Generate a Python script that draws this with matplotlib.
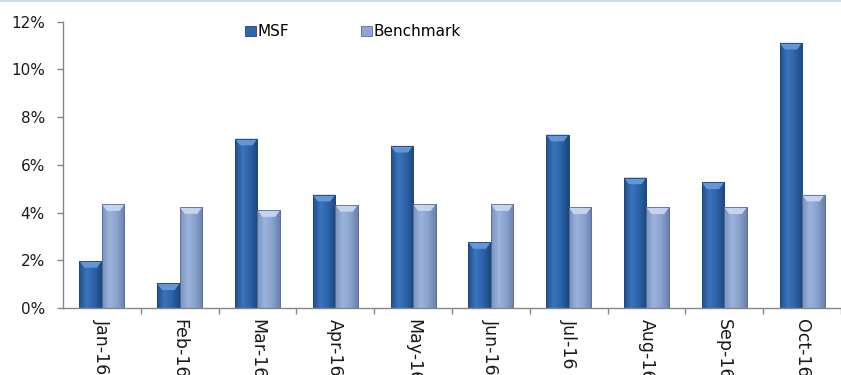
import matplotlib
matplotlib.use("Agg")
import matplotlib.pyplot as plt
import numpy as np
from matplotlib.patches import Polygon, Patch
from matplotlib.colors import LinearSegmentedColormap
from matplotlib.lines import Line2D

months = ["Jan-16", "Feb-16", "Mar-16", "Apr-16", "May-16",
          "Jun-16", "Jul-16", "Aug-16", "Sep-16", "Oct-16"]
msf = [1.97, 1.03, 7.10, 4.75, 6.80, 2.76, 7.27, 5.47, 5.27, 11.12]
benchmark = [4.35, 4.23, 4.10, 4.32, 4.35, 4.35, 4.22, 4.22, 4.22, 4.75]
yticks = [0, 2, 4, 6, 8, 10, 12]
ytick_labels = ["0%", "2%", "4%", "6%", "8%", "10%", "12%"]

fig = plt.figure(figsize=(8.41, 3.75), dpi=100)
ax = fig.add_axes([0.0749, 0.1787, 1 - 0.0749, 0.9419 - 0.1787])

x = np.arange(len(months))
w = 0.29

styles = {
    "MSF": dict(edge="#1F4677", grad=["#21508C", "#3A74BD", "#2C62A6", "#1C4780"], top="#6A9CDB"),
    "Benchmark": dict(edge="#5B6F94", grad=["#7891BF", "#9CB3DB", "#8AA2CE", "#6B82AF"], top="#CCDAF2"),
}

def draw(series, offset, name):
    st = styles[name]
    bars = ax.bar(x + offset, series, width=w, color=st["grad"][1], edgecolor=st["edge"],
                  linewidth=0.6, zorder=2, label=name)
    cmap = LinearSegmentedColormap.from_list(name, st["grad"])
    grad = np.linspace(0, 1, 64).reshape(1, -1)
    for b in bars:
        x0, y0 = b.get_x(), b.get_y()
        bw, bh = b.get_width(), b.get_height()
        im = ax.imshow(grad, extent=[x0, x0 + bw, y0, y0 + bh], aspect="auto",
                       cmap=cmap, zorder=2.1, interpolation="bicubic")
        im.set_clip_path(b)
        bev = 0.28
        poly = Polygon([[x0, y0 + bh], [x0 + bw, y0 + bh],
                        [x0 + bw * 0.78, y0 + bh - bev], [x0 + bw * 0.22, y0 + bh - bev]],
                       closed=True, facecolor=st["top"], edgecolor="none", zorder=2.2, alpha=0.9)
        ax.add_patch(poly)
        ax.add_patch(plt.Rectangle((x0, y0), bw, bh, fill=False, edgecolor=st["edge"],
                                   linewidth=0.6, zorder=2.3))
    return bars

draw(msf, -w / 2, "MSF")
draw(benchmark, w / 2, "Benchmark")

ax.set_ylim(0, 12)
ax.set_xlim(-0.5, 9.41)
ax.set_yticks(yticks)
ax.set_yticklabels(ytick_labels, fontsize=11, color="#1a1a1a")
ax.set_xticks(x)
ax.set_xticklabels(months, rotation=-90, fontsize=12.5, color="#1a1a1a", va="top")
ax.set_xticks(np.arange(len(months)) + 0.5, minor=True)
ax.tick_params(axis="x", which="major", length=0, pad=8)
ax.tick_params(axis="x", which="minor", length=4, width=1, color="#868686")
ax.tick_params(axis="y", length=4, width=1, color="#868686", pad=9)
for s in ["top", "right"]:
    ax.spines[s].set_visible(False)
for s in ["left", "bottom"]:
    ax.spines[s].set_color("#868686")
    ax.spines[s].set_linewidth(1)
ax.set_facecolor("white")

handles = [Patch(facecolor="#2F66AD", edgecolor="#1F4677", linewidth=0.6),
           Patch(facecolor="#8EA6D3", edgecolor="#5B6F94", linewidth=0.6)]
fig.legend(handles, ["MSF", "Benchmark"], loc="center left", bbox_to_anchor=(0.284, 0.915),
           ncol=2, frameon=False, fontsize=11, handlelength=0.7, handleheight=0.7,
           handletextpad=0.1, columnspacing=4.75, borderaxespad=0)

fig.add_artist(Line2D([0, 1], [0.997, 0.997], transform=fig.transFigure,
                      color="#C5DCEF", linewidth=1.5))

fig.savefig("out.png", dpi=100, facecolor="white")
